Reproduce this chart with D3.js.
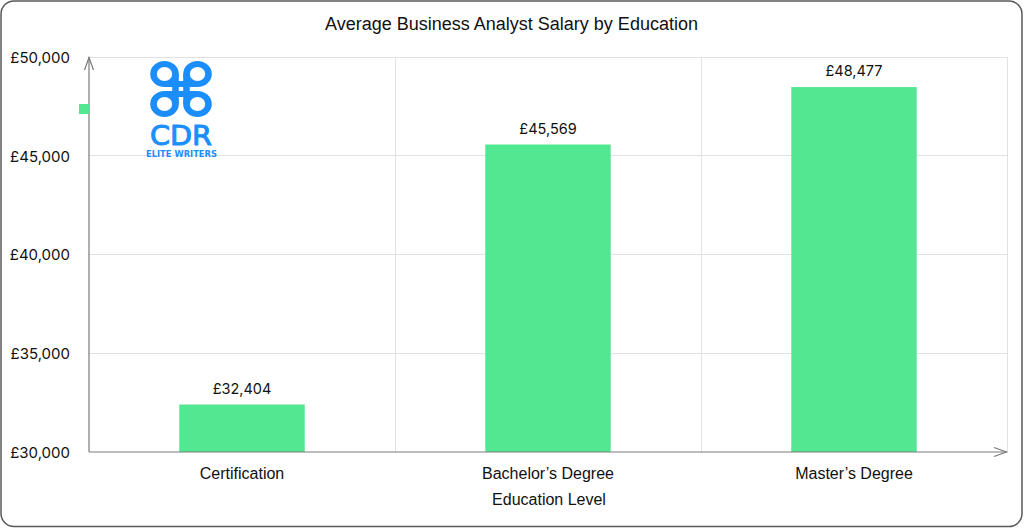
<!DOCTYPE html>
<html>
<head>
<meta charset="utf-8">
<script src="https://cdn.jsdelivr.net/npm/d3@7"></script>
<style>
html,body{margin:0;padding:0;background:#fff;}
svg{display:block;}
</style>
</head>
<body>
<svg id="chart" width="1024" height="528"></svg>
<script>
const categories = ["Certification", "Bachelor\u2019s Degree", "Master\u2019s Degree"];
const salaries = [32404, 45569, 48477];
const yTicks = [30000, 35000, 40000, 45000, 50000];
const yDomain = [30000, 50000];
const chartTitle = "Average Business Analyst Salary by Education";
const xTitle = "Education Level";

const svg = d3.select("#chart");
const W = 1024, H = 528;
const m = {left: 89, right: 17, top: 57, bottom: 76};
const x0 = m.left, x1 = W - m.right, y0 = m.top, y1 = H - m.bottom;

// frame
svg.append("rect").attr("x", 1).attr("y", 1).attr("width", W - 3).attr("height", H - 2.5)
  .attr("rx", 13).attr("fill", "#fff").attr("stroke", "#595959").attr("stroke-width", 1.5);

const x = d3.scaleBand().domain(categories).range([x0, x1]).padding(0);
const y = d3.scaleLinear().domain(yDomain).range([y1, y0]);
const barW = x.bandwidth() * 0.41;

// horizontal grid
svg.append("g").selectAll("line").data(yTicks.filter(t => t > yDomain[0])).join("line")
  .attr("x1", x0).attr("x2", x1).attr("y1", d => y(d)).attr("y2", d => y(d))
  .attr("stroke", "#e2e2e2").attr("stroke-width", 1).attr("shape-rendering", "crispEdges");
// vertical grid (band boundaries)
svg.append("g").selectAll("line").data(categories).join("line")
  .attr("x1", d => x(d) + x.bandwidth()).attr("x2", d => x(d) + x.bandwidth())
  .attr("y1", y0).attr("y2", y1)
  .attr("stroke", "#e2e2e2").attr("stroke-width", 1).attr("shape-rendering", "crispEdges");

// y axis
const yAxis = d3.axisLeft(y).tickValues(yTicks).tickSize(0).tickPadding(19)
  .tickFormat(d => "\u00a3" + d3.format(",")(d));
const gy = svg.append("g").attr("transform", `translate(${x0},0)`).call(yAxis);
gy.select(".domain").remove();
gy.selectAll("text").attr("font-family", "Inter, 'Liberation Sans', sans-serif")
  .attr("font-size", 15).attr("fill", "#111").attr("dy", "0.35em");

// x axis
const xAxis = d3.axisBottom(x).tickSize(0).tickPadding(16);
const gx = svg.append("g").attr("transform", `translate(0,${y1})`).call(xAxis);
gx.select(".domain").remove();
gx.selectAll("text").attr("font-family", "'Liberation Sans', Arimo, sans-serif")
  .attr("font-size", 16).attr("fill", "#111");

// bars
svg.append("g").selectAll("rect").data(salaries).join("rect")
  .attr("x", (d, i) => x(categories[i]) + (x.bandwidth() - barW) / 2)
  .attr("width", barW)
  .attr("y", d => y(d)).attr("height", d => y(yDomain[0]) - y(d))
  .attr("fill", "#52e892");

// value labels
svg.append("g").selectAll("text").data(salaries).join("text")
  .attr("x", (d, i) => x(categories[i]) + x.bandwidth() / 2)
  .attr("y", d => y(d) - 11)
  .attr("text-anchor", "middle")
  .attr("font-family", "Inter, 'Liberation Sans', sans-serif").attr("font-size", 14.5).attr("fill", "#111")
  .text(d => "\u00a3" + d3.format(",")(d));

// axis lines with arrows
const axisColor = "#7a7a7a";
svg.append("line").attr("x1", x0).attr("x2", x0).attr("y1", y1).attr("y2", y0)
  .attr("stroke", axisColor).attr("stroke-width", 1.2);
svg.append("path").attr("d", `M${x0 - 4.5},${y0 + 13}L${x0},${y0 + 0.5}L${x0 + 4.5},${y0 + 13}`)
  .attr("fill", "none").attr("stroke", axisColor).attr("stroke-width", 1.2);
svg.append("line").attr("x1", x0).attr("x2", x1).attr("y1", y1).attr("y2", y1)
  .attr("stroke", axisColor).attr("stroke-width", 1.2);
svg.append("path").attr("d", `M${x1 - 13},${y1 - 4.5}L${x1 - 0.5},${y1}L${x1 - 13},${y1 + 4.5}`)
  .attr("fill", "none").attr("stroke", axisColor).attr("stroke-width", 1.2);

// legend marker
svg.append("rect").attr("x", x0 - 10).attr("y", 104).attr("width", 10).attr("height", 10)
  .attr("fill", "#52e892");

// title
svg.append("text").attr("x", 511.5).attr("y", 30).attr("text-anchor", "middle")
  .attr("font-family", "'Liberation Sans', Arimo, sans-serif").attr("font-size", 18).attr("fill", "#111")
  .text(chartTitle);
// x axis title
svg.append("text").attr("x", 549).attr("y", 505).attr("text-anchor", "middle")
  .attr("font-family", "'Liberation Sans', Arimo, sans-serif").attr("font-size", 16).attr("fill", "#111")
  .text(xTitle);

// logo
const blue = "#1b8efc";
const logo = svg.append("g").attr("transform", "translate(181,89) scale(1.1,1)");
const a = 5, r = 10, sw = 6;
logo.append("path")
  .attr("d", `M${-a},${-a - r}V${a + r}M${a},${-a - r}V${a + r}M${-a - r},${-a}H${a + r}M${-a - r},${a}H${a + r}`)
  .attr("stroke", blue).attr("stroke-width", sw).attr("fill", "none");
[[-1, -1], [1, -1], [-1, 1], [1, 1]].forEach(([sx, sy]) => {
  logo.append("path")
    .attr("d", d3.arc()({innerRadius: r - sw / 2, outerRadius: r + sw / 2, startAngle: 0, endAngle: 2 * Math.PI}))
    .attr("transform", `translate(${sx * (a + r)},${sy * (a + r)})`)
    .attr("fill", blue);
});
svg.append("text").attr("x", 181).attr("y", 145).attr("text-anchor", "middle")
  .attr("font-family", "'DejaVu Sans', sans-serif").attr("font-size", 27)
  .attr("fill", blue).attr("stroke", blue).attr("stroke-width", 1)
  .attr("textLength", 62).attr("lengthAdjust", "spacingAndGlyphs").text("CDR");
svg.append("text").attr("x", 181.5).attr("y", 157).attr("text-anchor", "middle")
  .attr("font-family", "'DejaVu Sans', sans-serif").attr("font-size", 8).attr("font-weight", "bold")
  .attr("fill", blue).attr("textLength", 71).attr("lengthAdjust", "spacingAndGlyphs").text("ELITE WRITERS");
</script>
</body>
</html>
